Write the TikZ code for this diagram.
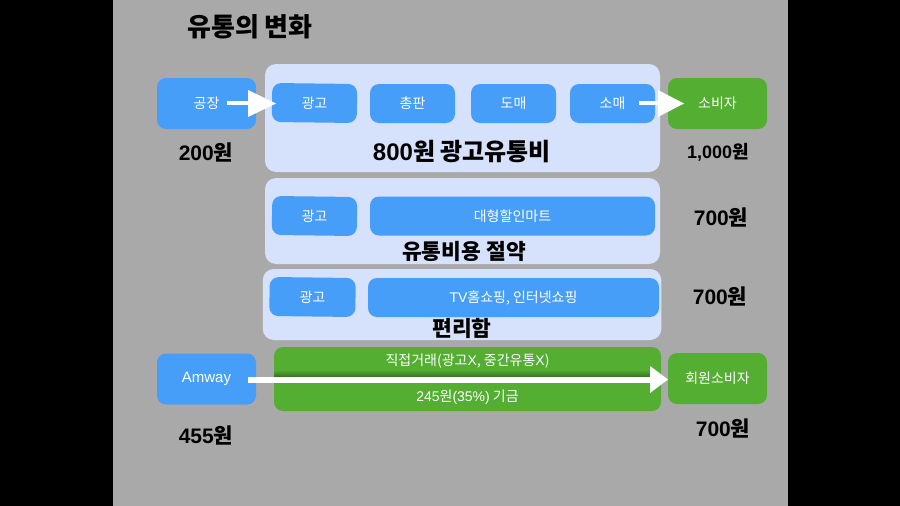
\documentclass[tikz,border=0pt]{standalone}
\usepackage{fontspec}
\setmainfont{Noto Sans CJK KR}
\newfontfamily\latfont{Liberation Sans}
\usetikzlibrary{arrows.meta}
\definecolor{bggray}{HTML}{A9A9A9}
\definecolor{panelblue}{HTML}{D6E1FC}
\definecolor{boxblue}{HTML}{479EF8}
\definecolor{boxgreen}{HTML}{53AE32}
\definecolor{darkgreen}{HTML}{3A6A28}
\tikzset{
  x=1pt,y=-1pt,
  panel/.style={fill=panelblue,rounded corners=11pt,inner sep=0pt,minimum width=#1},
  bluebox/.style={fill=boxblue,rounded corners=9pt,text=white,font=\fontsize{14}{16}\selectfont,inner sep=0pt},
  greenbox/.style={fill=boxgreen,rounded corners=9pt,text=white,font=\fontsize{14}{16}\selectfont,inner sep=0pt},
  whitelabel/.style={text=white,font=\fontsize{14}{16}\selectfont,inner sep=0pt},
  bigbold/.style={font=\fontsize{21.5}{26}\selectfont\bfseries,inner sep=0pt},
  price/.style={font=\fontsize{21}{25}\selectfont\bfseries,inner sep=0pt},
  blockarrow/.style={draw=white,line width=#1},
}
\begin{document}
\begin{tikzpicture}
\useasboundingbox (0,0) rectangle (900,506);
\fill[black] (0,0) rectangle (900,506);
\fill[bggray] (113,0) rectangle (788,506);
% panels
\node[panel=395pt,minimum height=108pt] (p1) at (462.5,118) {};
\node[panel=395pt,minimum height=86pt] (p2) at (462.5,221) {};
\node[panel=398.5pt,minimum height=71pt] (p3) at (462,304.5) {};
% row 1
\node[bluebox,minimum width=99pt,minimum height=51pt] (factory) at (206.5,103.5) {공장};
\node[bluebox,minimum width=85pt,minimum height=39pt,rotate=-0.7] (ad1) at (314.5,103) {광고};
\node[bluebox,minimum width=85pt,minimum height=39pt] (chongpan) at (412.5,103.5) {총판};
\node[bluebox,minimum width=85pt,minimum height=39pt] (domae) at (513.5,103.5) {도매};
\node[bluebox,minimum width=85pt,minimum height=39pt] (somae) at (612.5,103.5) {소매};
\node[greenbox,minimum width=99pt,minimum height=51pt] (consumer) at (717.5,103.5) {소비자};
% row 2
\node[bluebox,minimum width=85pt,minimum height=39pt,rotate=-0.7] (ad2) at (314.5,216) {광고};
\node[bluebox,minimum width=285pt,minimum height=39pt] (mart) at (512.5,216) {대형할인마트};
% row 3
\node[bluebox,minimum width=86pt,minimum height=39pt,rotate=-0.7] (ad3) at (312.5,297) {광고};
\node[bluebox,minimum width=291pt,minimum height=39pt] (tv) at (513.5,297.5) {{\latfont TV}홈쇼핑, 인터넷쇼핑};
% row 4
\node[bluebox,minimum width=99pt,minimum height=51pt] (amway) at (206.5,379) {\raisebox{-2pt}{\fontsize{15}{17}\latfont Amway}};
\node[greenbox,minimum width=387pt,minimum height=64pt] (direct) at (467.5,379) {};
\node[greenbox,minimum width=99pt,minimum height=51pt] (member) at (717.5,378.5) {회원소비자};
\shade[top color=boxgreen,bottom color=darkgreen] (274,370) rectangle (652,377);
\node[whitelabel] (directa) at (467.5,361) {직접거래(광고{\latfont X}, 중간유통{\latfont X})};
\node[whitelabel] (directb) at (467.5,397.5) {{\latfont 245}원{\latfont (35\%)} 기금};
% arrows
\coordinate (a1s) at (227,103);
\coordinate (a1h) at (248,103);
\coordinate (a2s) at (639,103);
\coordinate (a2h) at (658,103);
\coordinate (a3s) at (248,379.7);
\coordinate (a3h) at (650,379.7);
\draw[blockarrow=4.5pt] (a1s) -- (a1h);
\fill[white] (248,90) -- (276,103.5) -- (248,117) -- cycle;
\draw[blockarrow=4.5pt] (a2s) -- (a2h);
\fill[white] (658,90) -- (684,103.5) -- (658,117) -- cycle;
\draw[blockarrow=6pt] (a3s) -- (a3h);
\fill[white] (650,366) -- (668,379.5) -- (650,393) -- cycle;
% labels
\node[font=\fontsize{26}{30}\selectfont\bfseries,inner sep=0pt] (title) at (250,27) {유통의 변화};
\node[price] (t200) at (206,152) {{\latfont\bfseries 200}원};
\node[bigbold,font=\fontsize{24}{28}\selectfont\bfseries] (t800) at (462,152) {{\latfont\bfseries 800}원 광고유통비};
\node[price,font=\fontsize{18}{22}\selectfont\bfseries] (t1000) at (718,152) {{\latfont\bfseries 1,000}원};
\node[price] (t700a) at (721,217) {{\latfont\bfseries 700}원};
\node[bigbold] (tsave) at (464,251) {유통비용 절약};
\node[price] (t700b) at (720,296) {{\latfont\bfseries 700}원};
\node[bigbold] (tconv) at (462,328) {편리함};
\node[price] (t455) at (206,435) {{\latfont\bfseries 455}원};
\node[price] (t700c) at (723,428) {{\latfont\bfseries 700}원};
\end{tikzpicture}
\end{document}
